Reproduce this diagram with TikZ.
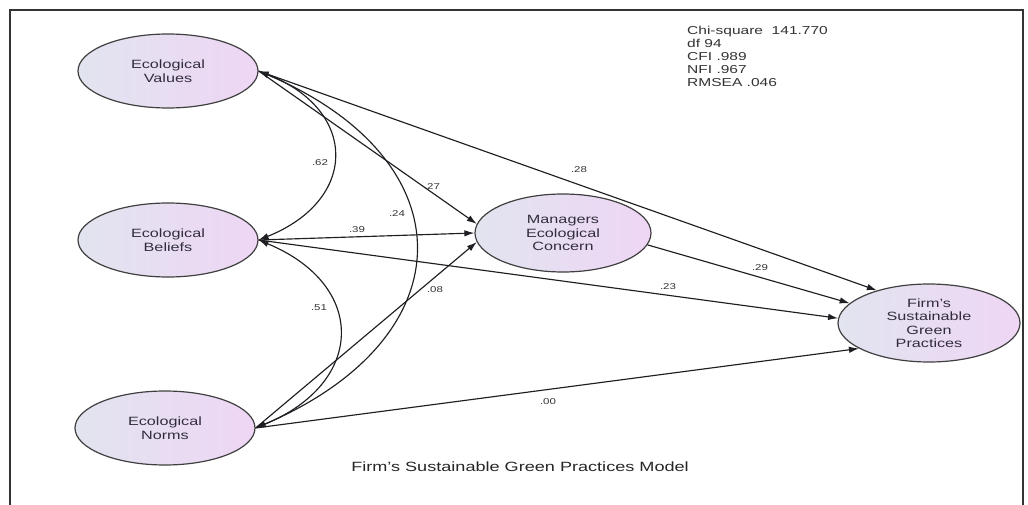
\documentclass[tikz,border=0pt]{standalone}
\usepackage{fontspec}
\setmainfont{Liberation Sans}[FakeStretch=1.35]
\usetikzlibrary{arrows.meta, shapes.geometric}

\definecolor{shadeleft}{RGB}{226,228,240}
\definecolor{shaderight}{RGB}{238,214,244}
\definecolor{ink}{RGB}{30,30,35}
\definecolor{labelink}{RGB}{50,45,60}

\tikzset{
	latent/.style={ellipse, draw=black!75, line width=1.2pt, left color=shadeleft, right color=shaderight,
		minimum width=180pt, minimum height=74pt, inner sep=0pt, align=center,
		font=\fontsize{12}{13.5}\selectfont, text=labelink},
	regr/.style={->, line width=1.15pt, draw=ink},
	covar/.style={<->, line width=1.15pt, draw=ink},
	coef/.style={font=\fontsize{8.5}{9}\selectfont, text=black!80, inner sep=1pt},
	fitstats/.style={font=\fontsize{11.5}{13}\selectfont, text=black!80, align=left, inner sep=0pt},
	caption/.style={font=\fontsize{13.4}{15}\selectfont, text=black!85, inner sep=0pt},
}

\begin{document}
\begin{tikzpicture}[x=1pt, y=-1pt, >={Latex[length=10pt,width=6.5pt]}]

\useasboundingbox (0,0) rectangle (1028,505);
\draw[line width=1.6pt, black!80] (1023,505) -- (1023,10) -- (10,10) -- (10,505);

% latent variables
\node[latent]	(ev)	at (168,71)	{Ecological\\Values};
\node[latent]	(eb)	at (168,240)	{Ecological\\Beliefs};
\node[latent]	(en)	at (165,428)	{Ecological\\Norms};
\node[latent, minimum width=176pt, minimum height=78pt]	(mc)	at (563,233)	{Managers\\Ecological\\Concern};
\node[latent, minimum width=182pt, minimum height=78pt]	(fs)	at (929,323)	{Firm's\\Sustainable\\Green\\Practices};

% paths
\draw[regr]	(ev.east) -- (fs.148);
\draw[regr]	(ev.east) -- (mc.174);
\draw[regr]	(eb.east) -- (mc.180);
\draw[regr]	(eb.east) -- (fs.177);
\draw[regr]	(en.east) -- (mc.186);
\draw[regr]	(en.east) -- (fs.200);
\draw[regr]	(mc.352) -- (fs.166);

% covariances
\draw[covar]	(ev.east) .. controls +(100,39) and +(100,-40) .. (eb.east);
\draw[covar]	(eb.east) .. controls +(109,45) and +(110,-45) .. (en.east);
\draw[covar]	(ev.east) .. controls +(210,89) and +(212,-90) .. (en.east);

% estimates
\node[coef]	(c62)	at (320,163)	{.62};
\node[coef]	(c24)	at (397,214)	{.24};
\node[coef]	(c27)	at (432,187)	{.27};
\node[coef]	(c28)	at (579,170)	{.28};
\node[coef]	(c39)	at (357,230)	{.39};
\node[coef]	(c08)	at (435,290)	{.08};
\node[coef]	(c51)	at (319,308)	{.51};
\node[coef]	(c23)	at (668,287)	{.23};
\node[coef]	(c29)	at (760,268)	{.29};
\node[coef]	(c00)	at (548,402)	{.00};

% fit and title
\node[fitstats, anchor=north west]	(fit)	at (687,26)	{Chi-square\ \ 141.770\\df 94\\CFI .989\\NFI .967\\RMSEA .046};
\node[caption]	(title)	at (520,467)	{Firm's Sustainable Green Practices Model};

\end{tikzpicture}
\end{document}
